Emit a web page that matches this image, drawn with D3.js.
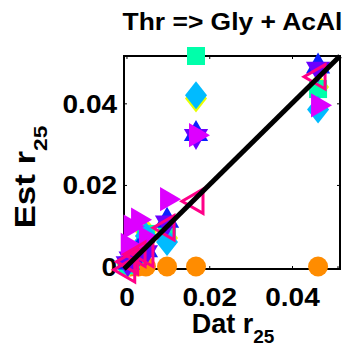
<!DOCTYPE html>
<html>
<head>
<meta charset="utf-8">
<script src="https://cdn.jsdelivr.net/npm/d3@7"></script>
<style>
  html, body { margin: 0; padding: 0; background: #fff; }
  svg text { font-family: "Liberation Sans", Arial, Helvetica, sans-serif; font-weight: bold; fill: #000; }
</style>
</head>
<body>
<svg id="chart" width="350" height="347"></svg>
<script>
// Measured r25 for each dataset (x) and the estimates from each fit (y)
const datX = [0.0003, 0.0010, 0.0028, 0.0047, 0.0098, 0.0168, 0.0463];

const estOrange  = [0.0000, 0.0000, 0.0000, 0.0000, 0.0000, 0.0000, 0.0000];
const estYellow  = [0.0005, 0.0020, 0.0040, 0.0085, 0.0070, 0.0412, 0.0440];
const estTeal    = [0.0003, 0.0015, 0.0030, 0.0080, 0.0075, 0.0516, 0.0435];
const estCyan    = [0.0008, 0.0020, 0.0040, 0.0075, 0.0060, 0.0420, 0.0385];
const estBlue    = [0.0010, 0.0025, 0.0036, 0.0040, 0.0112, 0.0325, 0.0490];
const estPurple  = [0.0008, 0.0020, 0.0030, 0.0035, 0.0108, 0.0320, 0.0485];
const estMagenta = [0.0053, 0.0098, 0.0115, 0.0070, 0.0165, 0.0322, 0.0395];
const estPink    = [-0.0008, 0.0012, 0.0030, 0.0030, 0.0095, 0.0160, 0.0465];

const xTicks = [0, 0.02, 0.04];
const yTicks = [0, 0.02, 0.04];
const axisLimits = [-0.0006, 0.0516];

const titleText = "Thr => Gly + AcAl";

const series = [
  { y: estOrange,  shape: "circle",   color: "#ff8c00", open: false },
  { y: estYellow,  shape: "diamond",  color: "#e8ff00", open: false },
  { y: estTeal,    shape: "square",   color: "#00ffaa", open: false },
  { y: estCyan,    shape: "diamond",  color: "#00bbff", open: false },
  { y: estBlue,    shape: "triUp",    color: "#0a20ff", open: false },
  { y: estPurple,  shape: "triDown",  color: "#6a00ff", open: false },
  { y: estMagenta, shape: "triRight", color: "#dd00ff", open: false },
  { y: estPink,    shape: "triLeft",  color: "#ff0088", open: true }
];

const svg = d3.select("#chart");
const plotL = 124, plotR = 340, plotT = 56, plotB = 269;

const x = d3.scaleLinear().domain(axisLimits).range([plotL, plotR]);
const y = d3.scaleLinear().domain(axisLimits).range([plotB, plotT]);

// marker outlines, centred on the origin
function markerPath(shape) {
  const r = 14, c = Math.cos(Math.PI / 6) * r, s = r / 2;
  switch (shape) {
    case "circle":   return d3.symbol(d3.symbolCircle, Math.PI * 10 * 10)();
    case "square":   return "M-9,-9H9V9H-9Z";
    case "diamond":  return "M0,-14L11,0L0,14L-11,0Z";
    case "triUp":    return `M0,${-r}L${c},${s}L${-c},${s}Z`;
    case "triDown":  return `M0,${r}L${c},${-s}L${-c},${-s}Z`;
    case "triRight": return `M${r},0L${-s},${-c}L${-s},${c}Z`;
    case "triLeft":  return `M${-r},0L${s},${-c}L${s},${c}Z`;
  }
}

// axes box
svg.append("rect")
  .attr("x", plotL).attr("y", plotT)
  .attr("width", plotR - plotL).attr("height", plotB - plotT)
  .attr("fill", "none").attr("stroke", "#000").attr("stroke-width", 2);

// inward ticks on all four sides
const tickLen = 3;
const labelStretch = 1.12;
const fmt = d => d === 0 ? "0" : d3.format(".2f")(d);

const gxb = svg.append("g").attr("transform", `translate(0,${plotB})`)
  .call(d3.axisBottom(x).tickValues(xTicks).tickSizeInner(-tickLen).tickSizeOuter(0).tickFormat(fmt));
gxb.selectAll("text").attr("y", 37).attr("dy", 0).attr("x", 0)
  .attr("transform", `scale(${labelStretch},1)`);

const gxt = svg.append("g").attr("transform", `translate(0,${plotT})`)
  .call(d3.axisTop(x).tickValues(xTicks).tickSizeInner(-tickLen).tickSizeOuter(0).tickFormat(""));

const gyl = svg.append("g").attr("transform", `translate(${plotL},0)`)
  .call(d3.axisLeft(y).tickValues(yTicks).tickSizeInner(-tickLen).tickSizeOuter(0).tickFormat(fmt));
gyl.selectAll("text").attr("x", -7 / labelStretch).attr("dy", "0.36em")
  .attr("transform", `scale(${labelStretch},1)`);

const gyr = svg.append("g").attr("transform", `translate(${plotR},0)`)
  .call(d3.axisRight(y).tickValues(yTicks).tickSizeInner(-tickLen).tickSizeOuter(0).tickFormat(""));

[gxb, gxt, gyl, gyr].forEach(g => {
  g.select(".domain").remove();
  g.selectAll("line").attr("stroke", "#000").attr("stroke-width", 1);
  g.selectAll("text")
    .attr("font-family", "'Liberation Sans', Arial, sans-serif")
    .attr("font-weight", "bold").attr("font-size", 25).attr("fill", "#000");
});

// markers, one group per fit
series.forEach(sr => {
  svg.append("g").selectAll("path")
    .data(datX.map((dx, i) => [dx, sr.y[i]]))
    .join("path")
    .attr("d", markerPath(sr.shape))
    .attr("transform", d => `translate(${x(d[0])},${y(d[1])})`)
    .attr("fill", sr.open ? "none" : sr.color)
    .attr("stroke", sr.open ? sr.color : "none")
    .attr("stroke-width", sr.open ? 3 : 0);
});

// identity line
svg.append("line")
  .attr("x1", x(axisLimits[0])).attr("y1", y(axisLimits[0]))
  .attr("x2", x(axisLimits[1])).attr("y2", y(axisLimits[1]))
  .attr("stroke", "#000").attr("stroke-width", 5);

// title
svg.append("text")
  .attr("transform", `translate(${(plotL + plotR) / 2 + 0.5},30) scale(1.1,1)`)
  .attr("text-anchor", "middle").attr("font-size", 24)
  .text(titleText);

// x label with subscript
const xl = svg.append("text")
  .attr("transform", `translate(233,333)`)
  .attr("text-anchor", "middle").attr("font-size", 27);
xl.append("tspan").text("Dat r");
xl.append("tspan").attr("dy", 10).attr("font-size", 19).text("25");

// y label with subscript
const yl = svg.append("text")
  .attr("transform", `translate(35,177) rotate(-90) scale(1.2,1)`)
  .attr("text-anchor", "middle").attr("font-size", 29);
yl.append("tspan").text("Est r");
yl.append("tspan").attr("dy", 12).attr("font-size", 19).text("25");
</script>
</body>
</html>
